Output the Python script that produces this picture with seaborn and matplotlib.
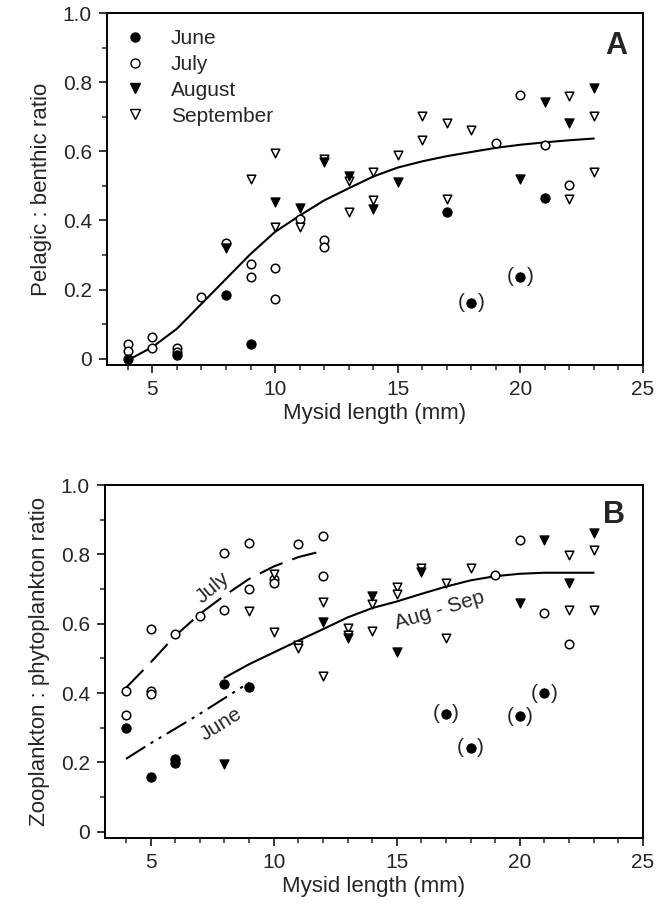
import matplotlib
matplotlib.use("Agg")
import matplotlib.pyplot as plt
from matplotlib.lines import Line2D
from matplotlib.ticker import MultipleLocator, FuncFormatter
import pandas as pd
import seaborn as sns

# panel A : pelagic / benthic ratio
june_a_x = [4, 6, 8, 9, 17, 21]
june_a_y = [0.0, 0.01, 0.185, 0.043, 0.424, 0.464]
june_a_paren_x = [18, 20]
june_a_paren_y = [0.162, 0.238]
july_a_x = [4, 4, 5, 5, 6, 6, 7, 8, 9, 9, 10, 10, 11, 12, 12, 19, 20, 21, 22]
july_a_y = [0.043, 0.024, 0.063, 0.03, 0.031, 0.021, 0.178, 0.335, 0.275, 0.236,
            0.262, 0.173, 0.405, 0.345, 0.323, 0.624, 0.764, 0.617, 0.504]
aug_a_x = [8, 10, 11, 12, 13, 14, 15, 20, 21, 22, 23]
aug_a_y = [0.32, 0.453, 0.435, 0.57, 0.53, 0.432, 0.512, 0.52, 0.742, 0.682, 0.782]
sep_a_x = [9, 10, 10, 11, 12, 13, 13, 14, 14, 15, 16, 16, 17, 17, 18, 22, 22, 23, 23]
sep_a_y = [0.52, 0.595, 0.38, 0.38, 0.578, 0.515, 0.424, 0.541, 0.458, 0.59,
           0.703, 0.634, 0.682, 0.462, 0.663, 0.761, 0.462, 0.703, 0.541]
fit_a_x = list(range(4, 24))
fit_a_y = [-0.004, 0.034, 0.087, 0.159, 0.231, 0.303, 0.367, 0.414, 0.458, 0.493,
           0.527, 0.553, 0.571, 0.586, 0.598, 0.61, 0.619, 0.626, 0.632, 0.637]

# panel B : zooplankton / phytoplankton ratio
june_b_x = [4, 5, 6, 6, 8, 9]
june_b_y = [0.298, 0.157, 0.21, 0.198, 0.425, 0.417]
june_b_paren_x = [17, 18, 20, 21]
june_b_paren_y = [0.34, 0.242, 0.333, 0.399]
july_b_x = [4, 4, 5, 5, 5, 6, 7, 8, 8, 9, 9, 10, 10, 11, 12, 12, 19, 20, 21, 22]
july_b_y = [0.406, 0.336, 0.585, 0.406, 0.396, 0.570, 0.623, 0.804, 0.64, 0.833,
            0.70, 0.73, 0.716, 0.831, 0.852, 0.739, 0.741, 0.842, 0.631, 0.541]
aug_b_x = [8, 12, 13, 14, 15, 16, 20, 21, 22, 23]
aug_b_y = [0.195, 0.604, 0.56, 0.681, 0.517, 0.749, 0.659, 0.842, 0.717, 0.862]
sep_b_x = [9, 10, 10, 11, 11, 12, 12, 13, 13, 14, 14, 15, 15, 16, 17, 17, 18, 22, 22, 23, 23]
sep_b_y = [0.638, 0.744, 0.575, 0.539, 0.531, 0.662, 0.449, 0.589, 0.567, 0.657,
           0.578, 0.707, 0.686, 0.761, 0.717, 0.56, 0.761, 0.799, 0.64, 0.812, 0.64]
fit_july_x = list(range(4, 13))
fit_july_y = [0.415, 0.488, 0.565, 0.628, 0.681, 0.729, 0.765, 0.792, 0.81]
fit_june_x = list(range(4, 10))
fit_june_y = [0.21, 0.255, 0.297, 0.34, 0.385, 0.43]
fit_augsep_x = list(range(8, 24))
fit_augsep_y = [0.444, 0.483, 0.517, 0.551, 0.584, 0.618, 0.645, 0.664, 0.686,
                0.707, 0.725, 0.737, 0.744, 0.747, 0.747, 0.747]

months = ["June", "July", "August", "September"]
month_style = {
    "June": dict(marker="o", filled=True),
    "July": dict(marker="o", filled=False),
    "August": dict(marker="v", filled=True),
    "September": dict(marker="v", filled=False),
}

sns.set_theme(style="ticks")
plt.rcParams["font.family"] = ["Liberation Sans", "DejaVu Sans"]
plt.rcParams["axes.linewidth"] = 1.4


def scatter_month(ax, xs, ys, month):
    st = month_style[month]
    df = pd.DataFrame({"length": xs, "ratio": ys})
    if st["filled"]:
        sns.scatterplot(data=df, x="length", y="ratio", ax=ax, marker=st["marker"],
                        color="black", edgecolor="black", s=44, linewidth=0.8, zorder=3)
    else:
        sns.scatterplot(data=df, x="length", y="ratio", ax=ax, marker=st["marker"],
                        color="white", edgecolor="black", s=38, linewidth=1.1, zorder=3)


def paren_points(ax, xs, ys):
    df = pd.DataFrame({"length": xs, "ratio": ys})
    sns.scatterplot(data=df, x="length", y="ratio", ax=ax, marker="o",
                    color="black", edgecolor="black", s=44, linewidth=0.8, zorder=3)
    for x, y in zip(xs, ys):
        ax.text(x - 0.4, y, "(", ha="center", va="center", fontsize=15)
        ax.text(x + 0.4, y, ")", ha="center", va="center", fontsize=15)


def fit_line(ax, xs, ys, ls):
    df = pd.DataFrame({"length": xs, "ratio": ys})
    sns.lineplot(data=df, x="length", y="ratio", ax=ax, color="black",
                 linewidth=1.5, linestyle=ls, zorder=2)


def style_axes(ax, ylabel):
    ax.set_xlim(3.15, 25)
    ax.set_ylim(-0.018, 1.0)
    ax.xaxis.set_major_locator(MultipleLocator(5))
    ax.xaxis.set_minor_locator(MultipleLocator(1))
    ax.yaxis.set_major_locator(MultipleLocator(0.2))
    ax.yaxis.set_minor_locator(MultipleLocator(0.1))
    ax.yaxis.set_major_formatter(FuncFormatter(lambda v, p: "0" if abs(v) < 1e-9 else f"{v:.1f}"))
    ax.tick_params(which="major", direction="out", length=6, width=1.3, labelsize=15, pad=5)
    ax.tick_params(which="minor", direction="out", length=3.5, width=1.1)
    ax.set_xlabel("Mysid length (mm)", fontsize=16, labelpad=3)
    ax.set_ylabel(ylabel, fontsize=16, labelpad=8)
    for sp in ax.spines.values():
        sp.set_visible(True)
        sp.set_color("black")


fig = plt.figure(figsize=(6.69, 9.16), dpi=100)
ax_a = fig.add_axes([0.16, 0.6015, 0.801, 0.3843])
ax_b = fig.add_axes([0.157, 0.0852, 0.804, 0.3853])

# ---- panel A
fit_line(ax_a, fit_a_x, fit_a_y, "-")
scatter_month(ax_a, july_a_x, july_a_y, "July")
scatter_month(ax_a, sep_a_x, sep_a_y, "September")
scatter_month(ax_a, aug_a_x, aug_a_y, "August")
scatter_month(ax_a, june_a_x, june_a_y, "June")
paren_points(ax_a, june_a_paren_x, june_a_paren_y)
style_axes(ax_a, "Pelagic : benthic ratio")
ax_a.text(0.951, 0.905, "A", transform=ax_a.transAxes, ha="center", va="center",
          fontsize=22, fontweight="bold")

handles = []
for m in months:
    st = month_style[m]
    handles.append(Line2D([], [], linestyle="none", marker=st["marker"], markersize=6.5,
                          markerfacecolor="black" if st["filled"] else "white",
                          markeredgecolor="black", markeredgewidth=1.0, label=m))
ax_a.legend(handles=handles, loc="upper left", bbox_to_anchor=(0.01, 0.99),
            frameon=False, fontsize=15, handlelength=1.0, handletextpad=1.2,
            labelspacing=0.33, borderaxespad=0.2)

# ---- panel B
fit_line(ax_b, fit_july_x, fit_july_y, (0, (12, 5)))
fit_line(ax_b, fit_june_x, fit_june_y, (0, (11, 3, 1.5, 3, 1.5, 3)))
fit_line(ax_b, fit_augsep_x, fit_augsep_y, "-")
scatter_month(ax_b, july_b_x, july_b_y, "July")
scatter_month(ax_b, sep_b_x, sep_b_y, "September")
scatter_month(ax_b, aug_b_x, aug_b_y, "August")
scatter_month(ax_b, june_b_x, june_b_y, "June")
paren_points(ax_b, june_b_paren_x, june_b_paren_y)
style_axes(ax_b, "Zooplankton : phytoplankton ratio")
ax_b.text(7.52, 0.703, "July", rotation=40, ha="center", va="center", fontsize=15)
ax_b.text(7.86, 0.309, "June", rotation=32, ha="center", va="center", fontsize=15)
ax_b.text(16.76, 0.638, "Aug - Sep", rotation=17, ha="center", va="center", fontsize=15)
ax_b.text(0.947, 0.915, "B", transform=ax_b.transAxes, ha="center", va="center",
          fontsize=22, fontweight="bold")

fig.savefig("out.png", dpi=100)
